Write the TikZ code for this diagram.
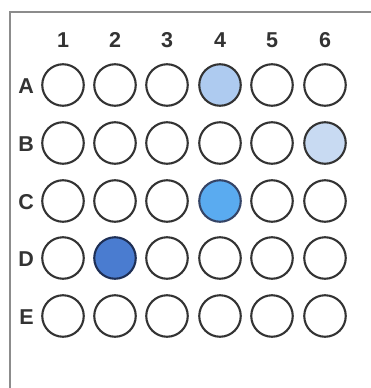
\documentclass[tikz,border=0pt]{standalone}
\usepackage{fontspec}
\setmainfont{Liberation Sans}
\usepackage{xcolor}
\usetikzlibrary{positioning}
\definecolor{wellA}{HTML}{AECBF0}
\definecolor{wellB}{HTML}{C8DAF2}
\definecolor{wellC}{HTML}{5AABF0}
\definecolor{wellD}{HTML}{4A7CD0}
\definecolor{rimD}{HTML}{1E2F55}

\begin{document}
\begin{tikzpicture}[
  x=1pt,
  y=-1pt,
  well/.style={circle, draw=black!80, line width=2.1pt, minimum size=41.5pt, inner sep=0pt},
  frame/.style={draw=black!45, line width=1.6pt},
  collab/.style={font=\fontsize{21.5}{21.5}\selectfont\bfseries, text=black!80},
  rowlab/.style={font=\fontsize{21.5}{21.5}\selectfont\bfseries, text=black!80, anchor=east, inner sep=0pt}
]
\useasboundingbox (0,0) rectangle (370,388);
\fill[white] (0,0) rectangle (370,388);
\draw[frame] (10,400) -- (10,12) -- (380,12);

% column labels
\node[collab] (c1) at (63,40) {1};
\node[collab] (c2) at (115,40) {2};
\node[collab] (c3) at (167,40) {3};
\node[collab] (c4) at (220,40) {4};
\node[collab] (c5) at (272,40) {5};
\node[collab] (c6) at (325,40) {6};

% row labels
\node[rowlab] (rA) at (34,86) {A};
\node[rowlab] (rB) at (34,144) {B};
\node[rowlab] (rC) at (34,202) {C};
\node[rowlab] (rD) at (34,259) {D};
\node[rowlab] (rE) at (34,317) {E};

% row A
\node[well] (a1) at (63,85) {};
\node[well] (a2) at (115,85) {};
\node[well] (a3) at (167,85) {};
\node[well, fill=wellA] (a4) at (220,85) {};
\node[well] (a5) at (272,85) {};
\node[well] (a6) at (325,85) {};

% row B
\node[well] (b1) at (63,143) {};
\node[well] (b2) at (115,143) {};
\node[well] (b3) at (167,143) {};
\node[well] (b4) at (220,143) {};
\node[well] (b5) at (272,143) {};
\node[well, fill=wellB] (b6) at (325,143) {};

% row C
\node[well] (c1w) at (63,201) {};
\node[well] (c2w) at (115,201) {};
\node[well] (c3w) at (167,201) {};
\node[well, fill=wellC, draw=rimD!90] (c4w) at (220,201) {};
\node[well] (c5w) at (272,201) {};
\node[well] (c6w) at (325,201) {};

% row D
\node[well] (d1) at (63,258) {};
\node[well, fill=wellD, draw=rimD] (d2) at (115,258) {};
\node[well] (d3) at (167,258) {};
\node[well] (d4) at (220,258) {};
\node[well] (d5) at (272,258) {};
\node[well] (d6) at (325,258) {};

% row E
\node[well] (e1) at (63,316) {};
\node[well] (e2) at (115,316) {};
\node[well] (e3) at (167,316) {};
\node[well] (e4) at (220,316) {};
\node[well] (e5) at (272,316) {};
\node[well] (e6) at (325,316) {};
\end{tikzpicture}
\end{document}
